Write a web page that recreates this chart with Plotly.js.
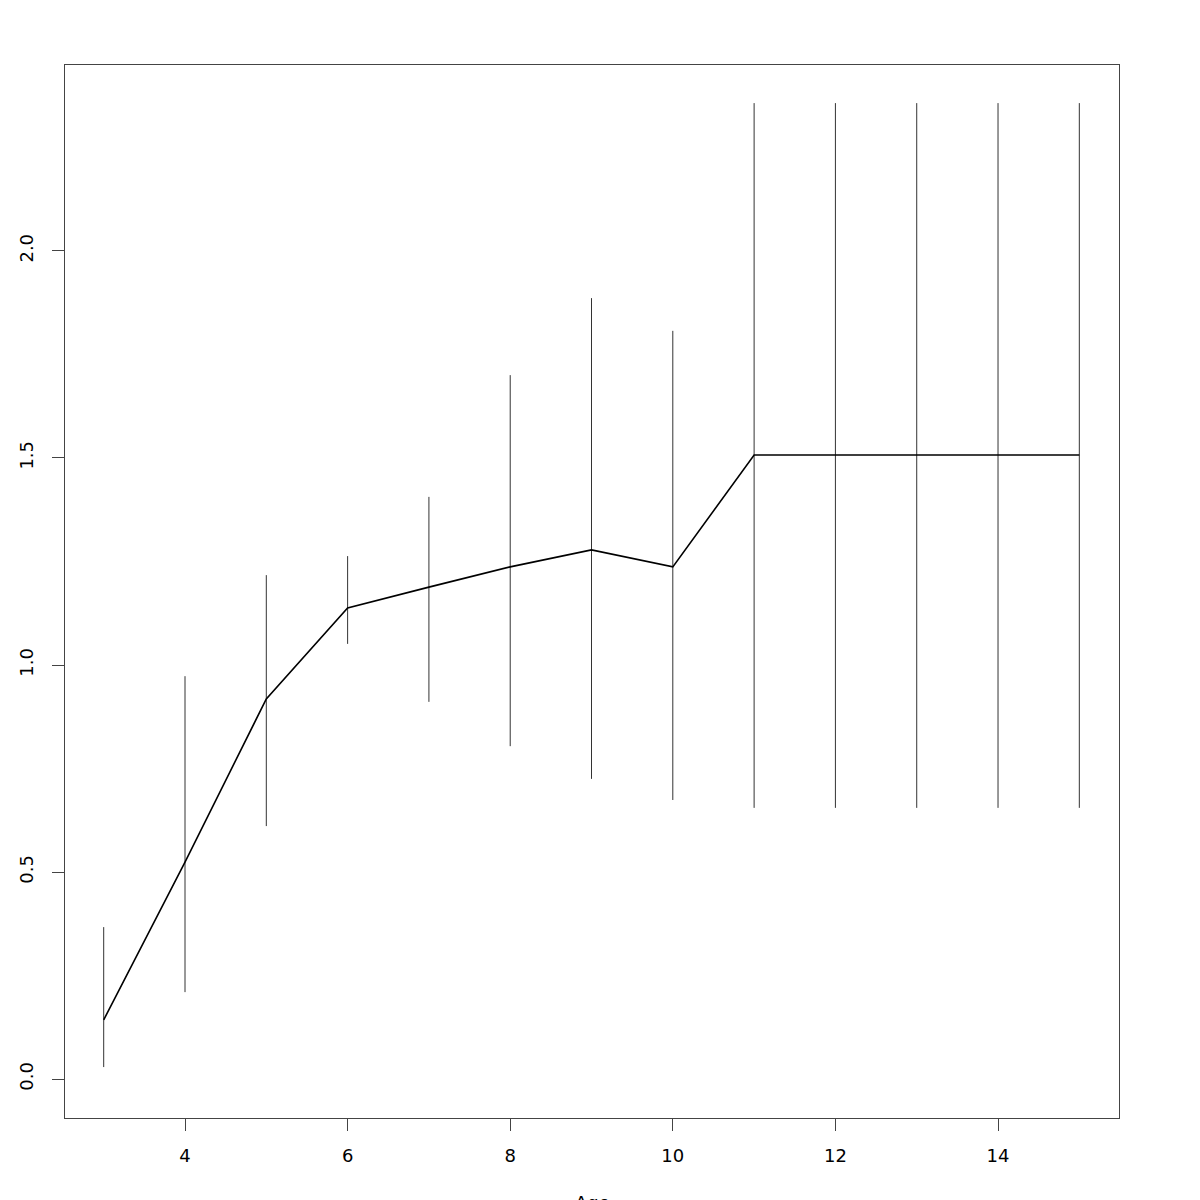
<!DOCTYPE html>
<html>
<head>
<meta charset="utf-8">
<script src="https://cdn.plot.ly/plotly-3.0.1.min.js"></script>
<style>html,body{margin:0;padding:0;background:#fff;}</style>
</head>
<body>
<div id="chart" style="width:1200px;height:1200px;"></div>
<script>
const ages = [3, 4, 5, 6, 7, 8, 9, 10, 11, 12, 13, 14, 15];
const estimate = [0.143, 0.524, 0.918, 1.138, 1.188, 1.237, 1.278, 1.237, 1.507, 1.507, 1.507, 1.507, 1.507];
const lower = [0.029, 0.210, 0.611, 1.051, 0.911, 0.804, 0.725, 0.674, 0.655, 0.655, 0.655, 0.655, 0.655];
const upper = [0.367, 0.973, 1.217, 1.263, 1.406, 1.700, 1.886, 1.807, 2.357, 2.357, 2.357, 2.357, 2.357];
const xLabel = 'Age';

const plus = upper.map((u, i) => u - estimate[i]);
const minus = estimate.map((e, i) => e - lower[i]);

const trace = {
  x: ages,
  y: estimate,
  type: 'scatter',
  mode: 'lines',
  line: {color: '#000', width: 1.6},
  error_y: {
    type: 'data', symmetric: false,
    array: plus, arrayminus: minus,
    width: 0, thickness: 1, color: '#333'
  },
  hoverinfo: 'skip',
  showlegend: false
};

const fnt = {family: 'DejaVu Sans, sans-serif', size: 18, color: '#000'};
const layout = {
  width: 1200, height: 1200, autosize: false,
  margin: {l: 65, r: 81, t: 65, b: 82, pad: 0},
  paper_bgcolor: '#fff', plot_bgcolor: '#fff',
  font: fnt,
  showlegend: false,
  xaxis: {
    range: [2.524, 15.488],
    tickmode: 'linear', tick0: 0, dtick: 2,
    ticks: 'outside', ticklen: 12, tickcolor: '#444', tickwidth: 1,
    ticklabelstandoff: 9,
    showgrid: false, zeroline: false,
    showline: true, mirror: true, linecolor: '#444', linewidth: 1,
    tickfont: fnt
  },
  yaxis: {
    range: [-0.094, 2.449],
    tickmode: 'linear', tick0: 0, dtick: 0.5, tickformat: '.1f',
    tickangle: -90,
    ticks: 'outside', ticklen: 12, tickcolor: '#444', tickwidth: 1,
    ticklabelstandoff: 12,
    showgrid: false, zeroline: false,
    showline: true, mirror: true, linecolor: '#444', linewidth: 1,
    tickfont: fnt
  },
  annotations: [{
    text: xLabel, xref: 'paper', yref: 'paper',
    x: 0.5, y: -0.0684, xanchor: 'center', yanchor: 'top',
    showarrow: false, font: fnt
  }]
};

Plotly.newPlot('chart', [trace], layout, {displayModeBar: false, staticPlot: true});
</script>
</body>
</html>
